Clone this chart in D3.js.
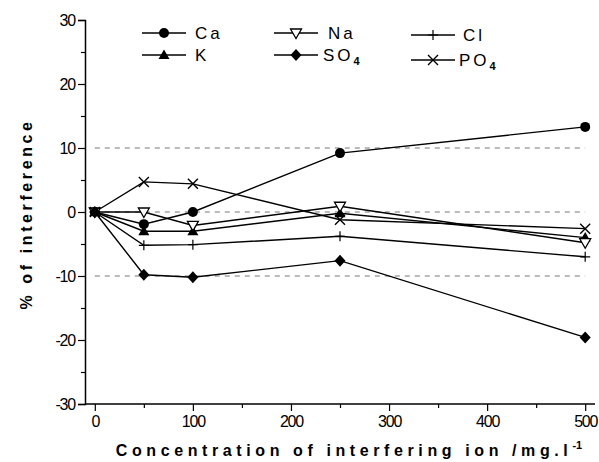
<!DOCTYPE html>
<html><head><meta charset="utf-8">
<script src="https://cdn.jsdelivr.net/npm/d3@7"></script>
<style>body{margin:0;background:#fff}svg{display:block}</style>
</head><body>
<svg id="c" width="599" height="462"></svg>
<script>
const concentrations = [0, 50, 100, 250, 500];
const seriesNames = ["Ca", "K", "Na", "SO4", "Cl", "PO4"];
const ca  = [0, -1.9, 0, 9.2, 13.3];
const k   = [0, -3.0, -3.0, -0.2, -4.0];
const na  = [0, 0, -2.1, 0.9, -4.8];
const so4 = [0, -9.8, -10.2, -7.6, -19.6];
const cl  = [0, -5.2, -5.1, -3.8, -7.0];
const po4 = [0, 4.7, 4.4, -1.2, -2.6];
const xTicks = [0, 100, 200, 300, 400, 500];
const yTicks = [-30, -20, -10, 0, 10, 20, 30];
const refLines = [-10, 0, 10];

const svg = d3.select("#c");
const x = d3.scaleLinear().domain([-10, 510]).range([85, 595]);
const y = d3.scaleLinear().domain([-30, 30]).range([404, 20]);
const font = "'Liberation Sans', Arial, sans-serif";

// reference dashed lines
svg.selectAll(".ref").data(refLines).enter().append("line")
  .attr("x1", x(0)).attr("x2", x(500))
  .attr("y1", d => y(d)).attr("y2", d => y(d))
  .attr("stroke", "#777").attr("stroke-width", 1).attr("stroke-dasharray", "5,5");

// axes
const fmt = d => String(d);
const yAxis = d3.axisLeft(y).tickValues(yTicks).tickSize(7).tickPadding(3).tickFormat(fmt);
const yMinor = d3.axisLeft(y).tickValues(d3.range(-25, 30, 10)).tickSize(4).tickFormat("");
const xAxis = d3.axisBottom(x).tickValues(xTicks).tickSize(7).tickPadding(5).tickFormat(fmt);
const xMinor = d3.axisBottom(x).tickValues(d3.range(50, 500, 100)).tickSize(4).tickFormat("");

function styleAxis(g) {
  g.select(".domain").attr("stroke", "#000").attr("stroke-width", 1.5);
  g.selectAll(".tick line").attr("stroke", "#000").attr("stroke-width", 1.2);
  g.selectAll("text").attr("font-family", font).attr("font-size", 16).attr("fill", "#000")
    .attr("letter-spacing", "-1.2px");
}
const gy = svg.append("g").attr("transform", `translate(${x(-10)},0)`).call(yAxis);
styleAxis(gy);
svg.append("g").attr("transform", `translate(${x(-10)},0)`).call(yMinor).call(styleAxis).select(".domain").remove();
const gx = svg.append("g").attr("transform", `translate(0,${y(-30)})`).call(xAxis);
styleAxis(gx);
gx.select(".domain").attr("d", `M${x(-10)},0H${x(510)}`);
svg.append("g").attr("transform", `translate(0,${y(-30)})`).call(xMinor).call(styleAxis).select(".domain").remove();

// series
const data = [
  {name: "Ca", vals: ca, sym: "circle"},
  {name: "K", vals: k, sym: "tri"},
  {name: "Na", vals: na, sym: "tridown"},
  {name: "SO4", vals: so4, sym: "diamond"},
  {name: "Cl", vals: cl, sym: "plus"},
  {name: "PO4", vals: po4, sym: "cross"}
];
const line = d3.line().x((d, i) => x(concentrations[i])).y(d => y(d));

function marker(g, sym, cx, cy) {
  if (sym === "circle") g.append("circle").attr("cx", cx).attr("cy", cy).attr("r", 5).attr("fill", "#000");
  else if (sym === "tri") g.append("path").attr("d", `M${cx},${cy-5.5}L${cx+5.5},${cy+4}L${cx-5.5},${cy+4}Z`).attr("fill", "#000");
  else if (sym === "tridown") g.append("path").attr("d", `M${cx-5.5},${cy-4}L${cx+5.5},${cy-4}L${cx},${cy+5.5}Z`).attr("fill", "#fff").attr("stroke", "#000").attr("stroke-width", 1.3);
  else if (sym === "diamond") g.append("path").attr("d", `M${cx},${cy-6}L${cx+5.5},${cy}L${cx},${cy+6}L${cx-5.5},${cy}Z`).attr("fill", "#000");
  else if (sym === "plus") g.append("path").attr("d", `M${cx-5},${cy}H${cx+5}M${cx},${cy-5}V${cy+5}`).attr("stroke", "#000").attr("stroke-width", 1.2);
  else if (sym === "cross") g.append("path").attr("d", `M${cx-5},${cy-5}L${cx+5},${cy+5}M${cx+5},${cy-5}L${cx-5},${cy+5}`).attr("stroke", "#000").attr("stroke-width", 1.4);
}

data.forEach(s => {
  svg.append("path").datum(s.vals).attr("d", line).attr("fill", "none").attr("stroke", "#000").attr("stroke-width", 1.4);
});
data.forEach(s => {
  const g = svg.append("g");
  s.vals.forEach((v, i) => marker(g, s.sym, x(concentrations[i]), y(v)));
});

// legend
const legend = [
  {name: "Ca", sym: "circle", lx: 142, ly: 33, tx: 195},
  {name: "K", sym: "tri", lx: 142, ly: 55, tx: 195},
  {name: "Na", sym: "tridown", lx: 274, ly: 33, tx: 328},
  {name: "SO4", sym: "diamond", lx: 274, ly: 55, tx: 323},
  {name: "Cl", sym: "plus", lx: 411, ly: 35, tx: 463},
  {name: "PO4", sym: "cross", lx: 411, ly: 60, tx: 459}
];
legend.forEach(l => {
  const g = svg.append("g");
  g.append("line").attr("x1", l.lx).attr("x2", l.lx + 44).attr("y1", l.ly).attr("y2", l.ly).attr("stroke", "#000").attr("stroke-width", 1.3);
  marker(g, l.sym, l.lx + 22, l.ly);
  const t = g.append("text").attr("x", l.tx).attr("y", l.ly + 6).attr("font-family", font).attr("font-size", 17).attr("letter-spacing", "3px").attr("fill", "#000");
  const m = l.name.match(/^([A-Za-z]+)(\d*)$/);
  t.append("tspan").text(m[1]);
  if (m[2]) t.append("tspan").attr("font-size", 11).attr("font-weight", "bold").attr("dy", 4).text(m[2]);
});

// axis titles
svg.append("text").attr("x", 349).attr("y", 456).attr("text-anchor", "middle")
  .attr("font-family", font).attr("font-weight", "bold").attr("font-size", 16).attr("letter-spacing", "4.6px")
  .text("Concentration of interfering ion /mg.l")
  .append("tspan").attr("font-size", 11).attr("dy", -7).attr("letter-spacing", "0px").text("-1");

svg.append("text").attr("transform", "translate(32,214) rotate(-90)").attr("text-anchor", "middle")
  .attr("font-family", font).attr("font-weight", "bold").attr("font-size", 16).attr("letter-spacing", "3.6px")
  .text("% of interference");
</script>
</body></html>
